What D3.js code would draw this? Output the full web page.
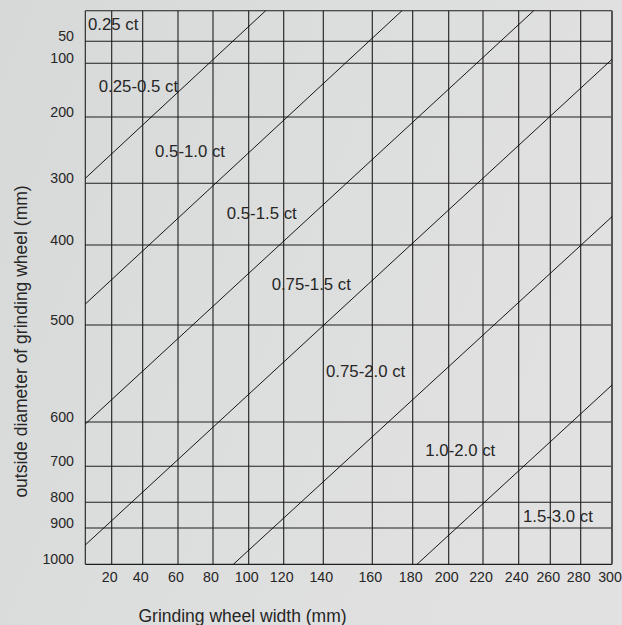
<!DOCTYPE html>
<html><head><meta charset="utf-8">
<script src="https://cdn.jsdelivr.net/npm/d3@7"></script>
<style>
html,body{margin:0;padding:0;background:#dcdddd;}
svg{display:block;}
text{font-family:"Liberation Sans",Arial,Helvetica,sans-serif;fill:#262626;}
</style>
</head><body>
<svg id="chart" width="622" height="625"></svg>
<script>
// ---------- data ----------
const widthTicks = [20, 40, 60, 80, 100, 120, 140, 160, 180, 200, 220, 240, 260, 280, 300];
const diameterTicks = [50, 100, 200, 300, 400, 500, 600, 700, 800, 900, 1000];

// boundary lines between diamond size regions (start / end in data units)
const lineStartWidth    = [0, 0, 0, 0, 91.4, 182.4];
const lineStartDiameter = [292.5, 473.8, 604.5, 946.8, 1000, 1000];
const lineEndWidth      = [109.7, 174.7, 249.5, 300, 300, 300];
const lineEndDiameter   = [0, 0, 0, 90.9, 354.1, 561.9];

const regionLabels   = ["0.25 ct", "0.25-0.5 ct", "0.5-1.0 ct", "0.5-1.5 ct", "0.75-1.5 ct", "0.75-2.0 ct", "1.0-2.0 ct", "1.5-3.0 ct"];
const labelWidth     = [2.0, 10.2, 47.0, 87.7, 113.1, 141.1, 187.0, 242.7];
const labelDiameter  = [31.5, 153.4, 259.9, 358.3, 456.3, 553.3, 676.7, 877.8];

const xTitle = "Grinding wheel width (mm)";
const yTitle = "outside diameter of grinding wheel (mm)";

// ---------- layout (the chart grid is hand-spaced, so scales are piecewise) ----------
const xPix = [85.3, 111.7, 142.7, 178, 213, 248.7, 283.7, 323.3, 372.3, 412.7, 448.7, 483, 518.7, 550.3, 580.7, 612];
const yPix = [10.7, 41.3, 63.3, 117, 183.3, 245, 325, 422, 466.3, 502.3, 528, 564.3];

const x = d3.scaleLinear().domain([0].concat(widthTicks)).range(xPix);
const y = d3.scaleLinear().domain([0].concat(diameterTicks)).range(yPix);

const svg = d3.select("#chart");

// background
const defs = svg.append("defs");
const grad = defs.append("linearGradient").attr("id", "bg")
  .attr("x1", "0").attr("y1", "0").attr("x2", "1").attr("y2", "0.4");
grad.append("stop").attr("offset", "0").attr("stop-color", "#d7d8d8");
grad.append("stop").attr("offset", "0.5").attr("stop-color", "#dcdddd");
grad.append("stop").attr("offset", "1").attr("stop-color", "#e1e1e1");
svg.append("rect").attr("width", 622).attr("height", 625).attr("fill", "url(#bg)");

const x0 = x(0), x1 = x(300), y0 = y(0), y1 = y(1000);
const gridColor = "#1e1e1e";

// horizontal grid lines
svg.append("g").selectAll("line").data(diameterTicks.slice(0, -1)).join("line")
  .attr("x1", x0).attr("x2", x1)
  .attr("y1", d => y(d)).attr("y2", d => y(d))
  .attr("stroke", gridColor).attr("stroke-width", 1.1);

// vertical grid lines
svg.append("g").selectAll("line").data(widthTicks.slice(0, -1)).join("line")
  .attr("x1", d => x(d)).attr("x2", d => x(d))
  .attr("y1", y0).attr("y2", y1)
  .attr("stroke", gridColor).attr("stroke-width", 1.1);

// frame
svg.append("line").attr("x1", x0).attr("x2", x0).attr("y1", y0).attr("y2", y1).attr("stroke", gridColor).attr("stroke-width", 1.1);
svg.append("line").attr("x1", x0).attr("x2", x1).attr("y1", y0).attr("y2", y0).attr("stroke", gridColor).attr("stroke-width", 1.1);
svg.append("line").attr("x1", x0).attr("x2", x1).attr("y1", y1).attr("y2", y1).attr("stroke", gridColor).attr("stroke-width", 1.3);
svg.append("line").attr("x1", x1).attr("x2", x1).attr("y1", y0).attr("y2", y1).attr("stroke", "#555").attr("stroke-width", 2);

// boundary lines
svg.append("g").selectAll("line").data(d3.range(lineStartWidth.length)).join("line")
  .attr("x1", i => x(lineStartWidth[i])).attr("y1", i => y(lineStartDiameter[i]))
  .attr("x2", i => x(lineEndWidth[i])).attr("y2", i => y(lineEndDiameter[i]))
  .attr("stroke", "#000").attr("stroke-width", 0.9);

// region labels
svg.append("g").selectAll("text").data(regionLabels).join("text")
  .attr("x", (d, i) => x(labelWidth[i]))
  .attr("y", (d, i) => y(labelDiameter[i]))
  .attr("font-size", 16.8)
  .text(d => d);

// y tick labels
svg.append("g").selectAll("text").data(diameterTicks).join("text")
  .attr("x", 74).attr("y", d => y(d) - 0.5)
  .attr("text-anchor", "end").attr("font-size", 14.2)
  .text(d => d);

// x tick labels
svg.append("g").selectAll("text").data(widthTicks).join("text")
  .attr("x", d => x(d) - 2).attr("y", y1 + 17.4)
  .attr("text-anchor", "middle").attr("font-size", 14.2)
  .text(d => d);

// axis titles
svg.append("text").attr("x", 242.5).attr("y", 621.7)
  .attr("text-anchor", "middle").attr("font-size", 17.5).text(xTitle);
svg.append("text").attr("transform", "translate(27.3,341.5) rotate(-90)")
  .attr("text-anchor", "middle").attr("font-size", 17.5).text(yTitle);
</script>
</body></html>
